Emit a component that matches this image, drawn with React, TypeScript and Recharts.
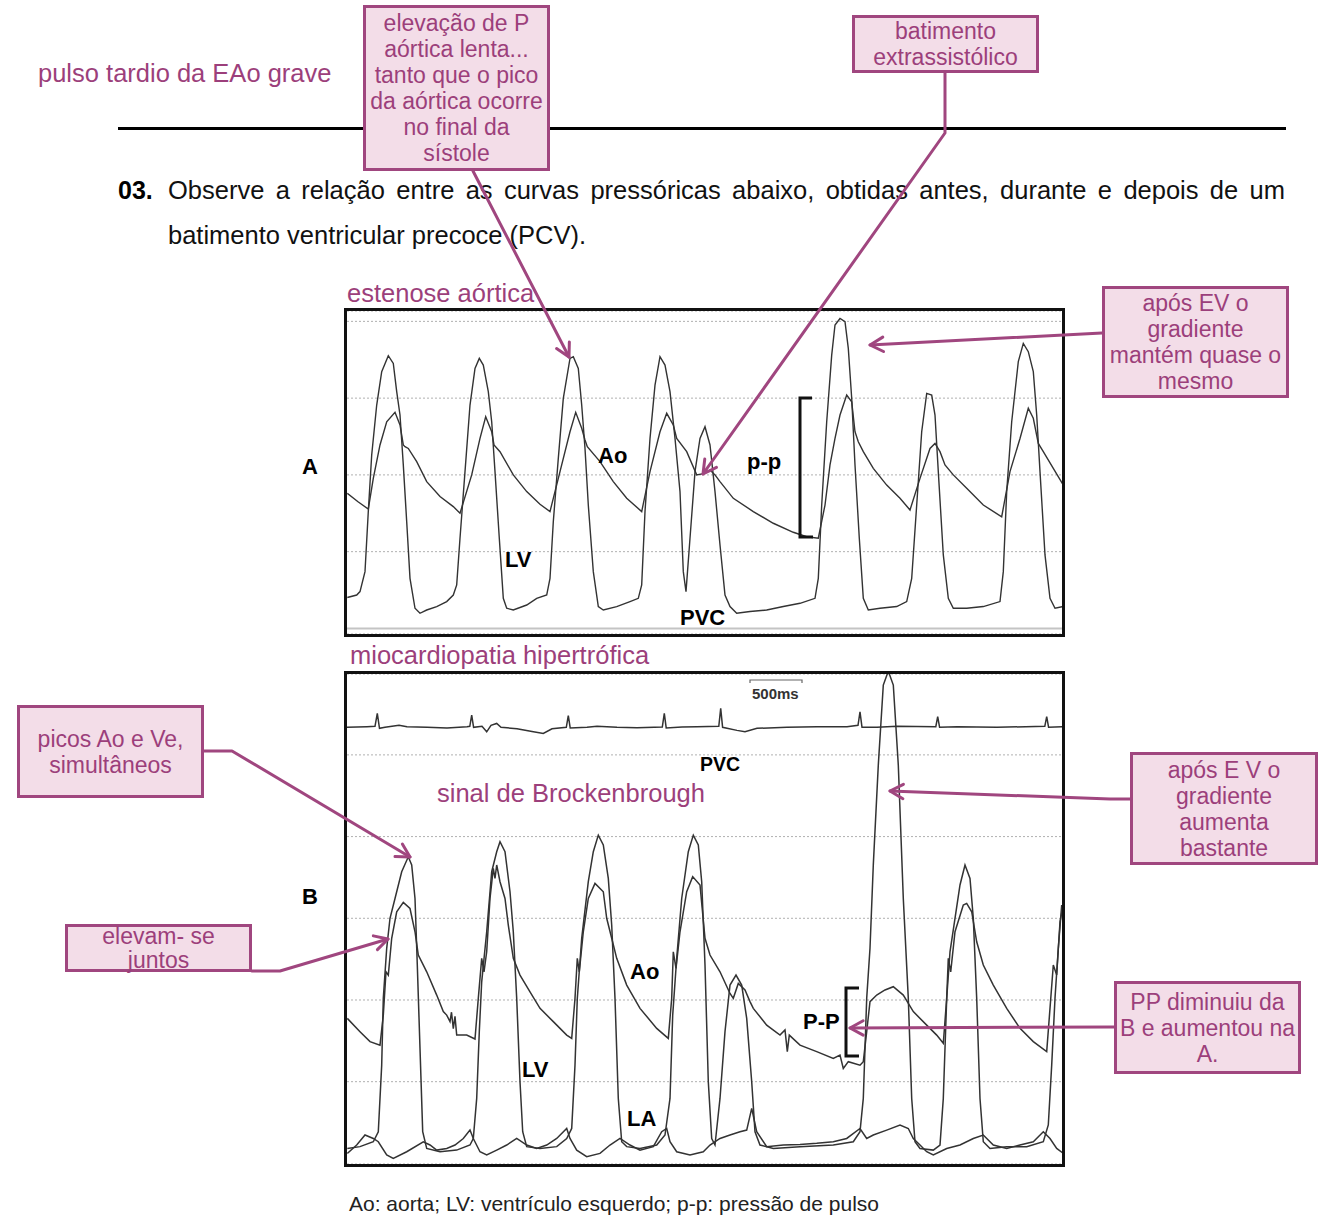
import React from "react";
import { LineChart, Line, XAxis, YAxis, CartesianGrid, ReferenceLine } from "recharts";

// ---------- Panel A (estenose aórtica): time in ms, pressure in mmHg ----------
const AO_A: [number, number][] = [
  [13,70.4],[120,66],[223,62.2],[273,78.2],[340,95.6],[407,107.7],[490,112.6],[540,106.0],[573,95.6],[590,94.7],[623,93.8],[707,86.9],[807,76.5],[940,68.7],[1073,63.5],[1140,60.0],
  [1257,80.0],[1340,99.0],[1397,110.3],[1457,102.5],[1480,95.6],[1540,92.1],[1673,80.0],[1807,71.3],[1940,64.7],[2040,60.9],
  [2140,81.7],[2240,102.5],[2297,112.6],[2357,104.3],[2390,98.2],[2413,94.7],[2540,86.9],[2673,76.5],[2807,67.8],[2957,60.9],
  [3040,81.7],[3140,102.5],[3207,112.1],[3273,106.0],[3307,99.0],[3407,92.1],[3507,80.0],[3560,80.5],[3640,82.5],[3690,80.0],[3740,76.5],[3873,67.8],[4073,60.9],[4273,54.8],[4473,50.1],[4607,47.8],[4723,47.0],
  [4790,64.3],[4840,85.2],[4890,99.0],[4940,111.2],[5007,121.6],[5057,118.1],[5090,102.5],[5123,97.3],[5173,92.1],[5273,83.4],[5407,74.7],[5540,67.8],[5640,61.7],
  [5740,78.2],[5840,93.8],[5890,96.4],[5940,92.1],[5990,85.2],[6073,80.0],[6207,73.0],[6373,64.3],[6557,58.2],
  [6640,81.7],[6740,99.0],[6823,114.7],[6873,109.5],[6923,96.4],[6973,92.1],[7073,83.4],[7173,74.7],
];
const LV_A: [number, number][] = [
  [13,16.1],[107,17.4],[140,19.2],[190,29.6],[223,60.9],[257,90.4],[307,116.4],[357,133.8],[423,142.1],[473,138.1],[507,123.4],[540,111.2],[573,85.2],[607,55.6],[640,26.1],[690,10.5],[740,7.9],[807,9.6],[907,11.4],[1007,14.0],[1073,17.4],[1107,22.7],
  [1140,47.0],[1190,81.7],[1240,116.4],[1290,135.5],[1333,140.7],[1373,137.2],[1423,123.4],[1457,107.7],[1490,81.7],[1533,47.0],[1573,15.7],[1607,10.5],[1673,9.6],[1807,12.2],[1907,15.7],[2007,17.4],
  [2040,26.1],[2073,55.6],[2123,88.6],[2173,119.9],[2240,140.7],[2273,141.6],[2323,135.5],[2357,116.4],[2390,93.8],[2423,64.3],[2473,29.6],[2523,11.4],[2573,9.6],[2707,11.4],[2840,14.0],[2923,15.7],
  [2957,22.7],[2990,60.9],[3040,99.0],[3090,126.8],[3140,141.6],[3190,137.2],[3240,123.4],[3290,99.0],[3340,71.3],[3373,29.6],[3400,19.2],
  [3440,47.0],[3490,81.7],[3540,99.0],[3590,105.1],[3640,95.6],[3690,71.3],[3740,43.5],[3790,17.4],[3840,11.4],[3907,7.9],[4040,8.8],[4207,9.6],[4373,11.4],[4540,13.1],[4690,15.7],
  [4723,26.1],[4757,64.3],[4807,107.7],[4857,142.4],[4890,158.1],[4940,161.5],[4990,159.8],[5023,145.9],[5057,119.9],[5090,85.2],[5133,47.0],[5173,15.7],[5223,9.6],[5340,10.5],[5507,11.4],[5607,14.0],
  [5657,26.1],[5707,64.3],[5757,102.5],[5807,122.5],[5857,121.6],[5890,111.2],[5923,81.7],[5973,38.3],[6023,15.7],[6073,10.5],[6207,10.5],[6373,11.4],[6540,14.0],
  [6573,29.6],[6607,71.3],[6657,107.7],[6723,139.0],[6773,148.5],[6823,144.2],[6873,133.8],[6907,111.2],[6940,81.7],[6990,38.3],[7040,15.7],[7090,10.5],[7173,11.4],
];
const TICKS_A = [40, 80, 120, 160];

// ---------- Panel B (miocardiopatia hipertrófica) ----------
const AO_B: [number, number][] = [
  [3,71.0],[130,64.5],[230,59.6],[330,57.9],[363,72.6],[390,93.8],[413,92.2],[447,110.2],[497,123.2],[563,127.8],[630,124.8],[680,113.4],[713,102.0],[797,93.8],[897,82.4],[963,74.3],[997,72.6],[1030,69.4],[1045,74.0],[1063,66.0],[1080,72.0],[1097,62.8],[1197,62.8],[1280,60.9],
  [1313,80.8],[1347,100.4],[1370,93.8],[1397,103.6],[1430,129.7],[1463,144.4],[1480,139.5],[1497,146.1],[1530,137.9],[1580,129.7],[1613,116.7],[1663,100.4],[1730,92.2],[1830,84.0],[1930,75.9],[2063,69.4],[2197,62.8],[2247,61.2],
  [2280,80.8],[2303,100.4],[2323,93.8],[2363,113.4],[2413,129.7],[2480,137.1],[2563,133.0],[2597,120.0],[2647,110.2],[2697,100.4],[2797,87.3],[2930,75.9],[3097,66.1],[3213,61.2],
  [3247,80.8],[3263,103.6],[3290,95.5],[3330,113.4],[3397,133.0],[3457,140.4],[3530,136.3],[3580,110.2],[3630,102.0],[3730,93.8],[3830,83.2],[3863,80.8],[3913,88.1],[3980,84.9],[4030,79.2],[4063,75.9],[4197,67.7],[4330,62.8],[4380,65.3],[4403,54.7],[4423,62.8],[4530,57.9],[4697,54.7],[4863,51.4],[4930,53.0],[4963,46.5],[5013,49.8],[5130,48.1],[5163,49.8],
  [5197,64.5],[5230,79.2],[5297,82.4],[5380,84.9],[5463,86.5],[5563,82.4],[5663,74.3],[5797,67.7],[5897,62.8],[5963,58.8],
  [5997,80.8],[6013,100.4],[6037,93.8],[6080,113.4],[6163,126.5],[6197,127.3],[6247,123.2],[6297,108.5],[6363,97.1],[6463,87.3],[6597,75.9],[6730,66.1],[6863,59.6],[6997,54.7],
  [7063,97.1],[7097,92.2],[7130,118.3],[7163,126.5],
];
const LV_B: [number, number][] = [
  [3,7.3],[130,8.2],[263,10.6],[313,15.5],[347,48.1],[363,80.8],[397,105.3],[430,120.0],[480,129.7],[547,142.8],[613,150.1],[647,146.1],[680,129.7],[703,97.1],[730,56.3],[757,15.5],[797,7.3],[930,5.7],[1097,6.5],[1230,9.0],[1263,12.2],
  [1297,31.8],[1323,64.5],[1347,88.9],[1397,113.4],[1447,142.8],[1497,152.6],[1530,157.5],[1580,152.6],[1630,133.0],[1663,113.4],[1697,80.8],[1730,40.0],[1757,15.5],[1797,8.2],[1930,7.3],[2097,8.2],[2197,12.2],[2247,17.1],
  [2280,48.1],[2303,80.8],[2347,110.2],[2413,137.9],[2463,152.6],[2513,160.7],[2563,155.9],[2613,139.5],[2647,116.7],[2680,80.8],[2713,31.8],[2747,10.6],[2797,8.2],[2930,7.3],[3097,9.0],[3180,13.9],
  [3230,31.8],[3257,72.6],[3297,100.4],[3347,129.7],[3413,152.6],[3463,160.7],[3513,155.9],[3547,137.9],[3580,97.1],[3613,40.0],[3647,12.2],[3680,9.0],
  [3730,31.8],[3780,64.5],[3830,87.3],[3890,92.2],[3947,87.3],[3997,71.0],[4047,40.0],[4080,15.5],[4130,9.0],[4263,7.3],[4530,8.2],[4863,9.0],[5063,10.6],[5130,15.5],
  [5163,31.8],[5197,80.8],[5230,105.3],[5263,146.1],[5313,195.0],[5363,234.2],[5413,241.0],[5463,234.2],[5513,195.0],[5563,129.7],[5613,80.8],[5647,31.8],[5680,10.6],[5730,7.3],[5863,6.5],[5930,9.0],
  [5963,31.8],[5997,80.8],[6030,103.6],[6080,120.0],[6130,136.3],[6180,146.1],[6230,139.5],[6263,120.0],[6297,80.8],[6330,31.8],[6363,10.6],[6430,7.3],[6597,8.2],[6797,8.2],[6963,10.6],[7013,18.8],
  [7047,48.1],[7080,80.8],[7113,105.3],[7147,126.5],
];
const LA_B: [number, number][] = [
  [3,4.9],[97,9.0],[180,13.9],[263,12.2],[313,10.6],[397,4.1],[463,2.4],[597,5.7],[763,10.6],[830,9.0],[897,6.5],[997,7.3],[1080,9.0],[1163,12.2],[1230,16.3],[1263,12.2],[1330,5.7],[1397,4.1],[1497,6.5],[1597,9.0],[1697,12.2],[1797,9.0],[1897,7.3],[1997,9.0],[2097,12.2],[2197,17.1],[2230,12.2],[2297,6.5],[2397,3.3],[2530,4.9],[2630,9.0],[2730,12.2],[2830,9.0],[2930,6.5],[3063,8.2],[3147,15.5],[3197,17.1],[3230,10.6],[3297,5.7],[3430,4.1],[3563,5.7],
  [3630,9.0],[3730,12.2],[3830,13.9],[3930,15.5],[3997,16.3],[4047,26.9],[4097,15.5],[4197,8.2],[4363,9.0],[4530,9.3],[4697,9.8],[4863,10.6],[4997,12.2],[5130,17.1],[5197,12.2],[5263,13.9],[5397,16.3],[5530,18.8],[5613,17.1],[5663,12.2],[5730,9.0],[5797,5.7],[5863,4.1],[5997,7.3],[6130,9.0],[6263,12.2],[6363,13.9],[6463,9.0],[6597,7.3],[6730,9.0],[6863,10.6],[6963,15.5],[7030,12.2],[7097,7.3],[7163,4.9],
];
const ECG_B: [number, number][] = [
  [0,213.5],[200,213.8],[280,214.0],[303,220.3],[325,213.0],[380,213.5],[520,214.5],[600,213.8],[800,213.5],[1000,213.2],[1200,213.8],[1228,214.0],[1247,219.5],[1266,213.5],[1350,214.0],[1397,211.3],[1440,214.5],[1497,215.4],[1540,213.5],[1700,212.8],[1850,211.5],[1963,210.5],[2050,212.8],[2193,213.5],[2213,219.2],[2232,213.2],[2400,213.5],[2500,214.0],[2700,213.5],[2900,213.3],[3153,213.6],[3173,220.3],[3192,213.2],[3350,213.6],[3500,213.8],
  [3718,214.0],[3737,222.8],[3756,213.5],[3900,212.0],[3980,211.3],[4100,213.0],[4400,213.5],[4700,213.8],[5000,213.8],[5110,214.5],[5130,221.1],[5150,213.5],[5300,213.5],[5500,214.0],[5888,213.8],[5907,218.7],[5926,213.5],[6100,213.8],[6500,213.5],[6978,214.0],[6997,218.7],[7016,213.5],[7180,213.8],
];
const TICKS_B = [40, 80, 120, 160, 200];

const toPts = (arr: [number, number][]) => arr.map(([t, p]) => ({ t, p }));

const FONT = '"Liberation Sans", Arial, Helvetica, sans-serif';
const PURPLE = "#9c3f7b";
const BORDER = "#a0467f";
const FILL = "#f3dde8";
const TRACE = "#333";

function Txt({ x, y, size = 20, color = "#000", bold = false, children }: any) {
  return (
    <div style={{ position: "absolute", left: x, top: y, transform: "translateY(-50%)", fontSize: size, lineHeight: `${size}px`, color, fontWeight: bold ? 700 : 400, whiteSpace: "nowrap", fontFamily: FONT }}>
      {children}
    </div>
  );
}

function Box({ x, y, w, h, lines, size = 23, clip = true, lh = 26 }: any) {
  return (
    <div style={{ position: "absolute", left: x, top: y, width: w, height: h, boxSizing: "border-box", border: `3px solid ${BORDER}`, background: FILL, overflow: clip ? "hidden" : "visible", display: "flex", flexDirection: "column", justifyContent: "center", alignItems: "center", fontFamily: FONT, fontSize: size, lineHeight: `${lh}px`, color: PURPLE, zIndex: 3 }}>
      {lines.map((l: string, i: number) => (
        <div key={i} style={{ whiteSpace: "nowrap", flex: `0 0 ${lh}px` }}>{l}</div>
      ))}
    </div>
  );
}

function makeTick(endX: number) {
  return (props: any) => {
    const { y, payload } = props;
    return (
      <text x={endX} y={y - 3} dy="0.35em" textAnchor="end" fontSize={15.5} fill="#444" fontFamily={FONT}>
        {payload.value}
      </text>
    );
  };
}

function Arrow({ pts }: { pts: number[][] }) {
  const n = pts.length;
  const [x1, y1] = pts[n - 2];
  const [x2, y2] = pts[n - 1];
  const ang = Math.atan2(y2 - y1, x2 - x1);
  const L = 15, a = 0.5;
  const h1 = [x2 - L * Math.cos(ang - a), y2 - L * Math.sin(ang - a)];
  const h2 = [x2 - L * Math.cos(ang + a), y2 - L * Math.sin(ang + a)];
  return (
    <g stroke={BORDER} strokeWidth={3} fill="none" strokeLinecap="round" strokeLinejoin="round">
      <polyline points={pts.map((p) => p.join(",")).join(" ")} />
      <polyline points={`${h1[0]},${h1[1]} ${x2},${y2} ${h2[0]},${h2[1]}`} />
    </g>
  );
}

export default function App() {
  const aoA = toPts(AO_A), lvA = toPts(LV_A);
  const aoB = toPts(AO_B), lvB = toPts(LV_B), laB = toPts(LA_B), ecgB = toPts(ECG_B);
  return (
    <div style={{ position: "absolute", left: 0, top: 0, width: 1334, height: 1227, background: "#fff", overflow: "hidden", fontFamily: FONT }}>
      {/* header */}
      <Txt x={38} y={74} size={25.5} color={PURPLE}>pulso tardio da EAo grave</Txt>
      <div style={{ position: "absolute", left: 118, top: 127, width: 1168, height: 3, background: "#000" }} />
      <Box x={363} y={5} w={187} h={166} lines={["elevação de P", "aórtica lenta...", "tanto que o pico", "da aórtica ocorre", "no final da", "sístole"]} />
      <Box x={852} y={15} w={187} h={58} lines={["batimento", "extrassistólico"]} />

      <Txt x={118} y={190} size={25} bold>03.</Txt>
      <div style={{ position: "absolute", left: 168, top: 175, width: 1117, fontSize: 25.5, lineHeight: "30px", fontFamily: FONT, color: "#111" }}>
        <div style={{ whiteSpace: "nowrap", textAlign: "justify", textAlignLast: "justify" as any }}>Observe a relação entre as curvas pressóricas abaixo, obtidas antes, durante e depois de um</div>
      </div>
      <Txt x={168} y={236} size={25.5} color="#111">batimento ventricular precoce (PCV).</Txt>

      {/* Panel A */}
      <Txt x={347} y={294} size={25.5} color={PURPLE}>estenose aórtica</Txt>
      <Txt x={302} y={467} size={22} bold>A</Txt>
      <div style={{ position: "absolute", left: 344, top: 308, width: 721, height: 329, boxSizing: "border-box", border: "3px solid #111", background: "#fff" }}>
        <LineChart width={715} height={323} margin={{ top: 0, right: 0, bottom: 0, left: 0 }}>
          <CartesianGrid horizontal vertical={false} stroke="#b0b0b0" strokeDasharray="2 2" />
          <XAxis dataKey="t" type="number" domain={[10, 7160]} hide allowDataOverflow />
          <YAxis type="number" domain={[-2.9, 165.4]} ticks={TICKS_A} interval={0} width={0} axisLine={false} tickLine={false} tick={makeTick(49)} allowDataOverflow />
          <ReferenceLine y={0} stroke="#c4c4c4" strokeWidth={2} />
          <Line data={aoA} dataKey="p" type="linear" dot={false} stroke={TRACE} strokeWidth={1.4} isAnimationActive={false} />
          <Line data={lvA} dataKey="p" type="linear" dot={false} stroke={TRACE} strokeWidth={1.4} isAnimationActive={false} />
        </LineChart>
      </div>
      <Txt x={598} y={456} size={22} bold>Ao</Txt>
      <Txt x={505} y={560} size={22} bold>LV</Txt>
      <Txt x={747} y={462} size={22} bold>p-p</Txt>
      <Txt x={680} y={618} size={22} bold>PVC</Txt>

      {/* Panel B */}
      <Txt x={350} y={656} size={25.5} color={PURPLE}>miocardiopatia hipertrófica</Txt>
      <Txt x={302} y={897} size={22} bold>B</Txt>
      <div style={{ position: "absolute", left: 344, top: 671, width: 721, height: 496, boxSizing: "border-box", border: "3px solid #111", background: "#fff" }}>
        <LineChart width={715} height={490} margin={{ top: 0, right: 0, bottom: 0, left: 0 }}>
          <CartesianGrid horizontal vertical={false} stroke="#b0b0b0" strokeDasharray="2 2" />
          <XAxis dataKey="t" type="number" domain={[0, 7150]} hide allowDataOverflow />
          <YAxis type="number" domain={[-0.3, 239.6]} ticks={TICKS_B} interval={0} width={0} axisLine={false} tickLine={false} tick={makeTick(43)} allowDataOverflow />
          <Line data={ecgB} dataKey="p" type="linear" dot={false} stroke={TRACE} strokeWidth={1.5} isAnimationActive={false} />
          <Line data={laB} dataKey="p" type="linear" dot={false} stroke={TRACE} strokeWidth={1.5} isAnimationActive={false} />
          <Line data={aoB} dataKey="p" type="linear" dot={false} stroke={TRACE} strokeWidth={1.5} isAnimationActive={false} />
          <Line data={lvB} dataKey="p" type="linear" dot={false} stroke={TRACE} strokeWidth={1.5} isAnimationActive={false} />
        </LineChart>
      </div>
      <Txt x={752} y={693} size={15} bold color="#333">500ms</Txt>
      <Txt x={700} y={765} size={19.5} bold>PVC</Txt>
      <Txt x={437} y={794} size={25.5} color={PURPLE}>sinal de Brockenbrough</Txt>
      <Txt x={630} y={972} size={22} bold>Ao</Txt>
      <Txt x={522} y={1070} size={22} bold>LV</Txt>
      <Txt x={627} y={1119} size={22} bold>LA</Txt>
      <Txt x={803} y={1022} size={22} bold>P-P</Txt>

      {/* side boxes */}
      <Box x={1102} y={286} w={187} h={112} lines={["após EV o", "gradiente", "mantém quase o", "mesmo"]} />
      <Box x={1130} y={752} w={188} h={113} lines={["após E V o", "gradiente", "aumenta", "bastante"]} />
      <Box x={1114} y={981} w={187} h={93} lines={["PP diminuiu da", "B e aumentou na", "A."]} />
      <Box x={17} y={705} w={187} h={93} lines={["picos Ao e Ve,", "simultâneos"]} />
      <Box x={65} y={924} w={187} h={48} lh={24} clip={false} lines={["elevam- se", "juntos"]} />

      <Txt x={349} y={1203} size={21} color="#222">Ao: aorta; LV: ventrículo esquerdo; p-p: pressão de pulso</Txt>

      {/* overlay: brackets, scale bar, arrows */}
      <svg width={1334} height={1227} style={{ position: "absolute", left: 0, top: 0, zIndex: 4, pointerEvents: "none" }}>
        <polyline points="812,398 800,398 800,537 813,537" stroke="#111" strokeWidth={3} fill="none" />
        <polyline points="859,988 846,988 846,1056 859,1056" stroke="#111" strokeWidth={3} fill="none" />
        <polyline points="750,683 750,680 802,680 802,683" stroke="#666" strokeWidth={1.2} fill="none" />
        <Arrow pts={[[473, 171], [569, 357]]} />
        <Arrow pts={[[945, 73], [945, 133], [703, 474]]} />
        <Arrow pts={[[1102, 333], [870, 345]]} />
        <Arrow pts={[[204, 751], [232, 751], [410, 857]]} />
        <Arrow pts={[[252, 971], [280, 971], [388, 939]]} />
        <Arrow pts={[[1130, 799], [1110, 799], [890, 791]]} />
        <Arrow pts={[[1114, 1027], [850, 1028]]} />
      </svg>
    </div>
  );
}
